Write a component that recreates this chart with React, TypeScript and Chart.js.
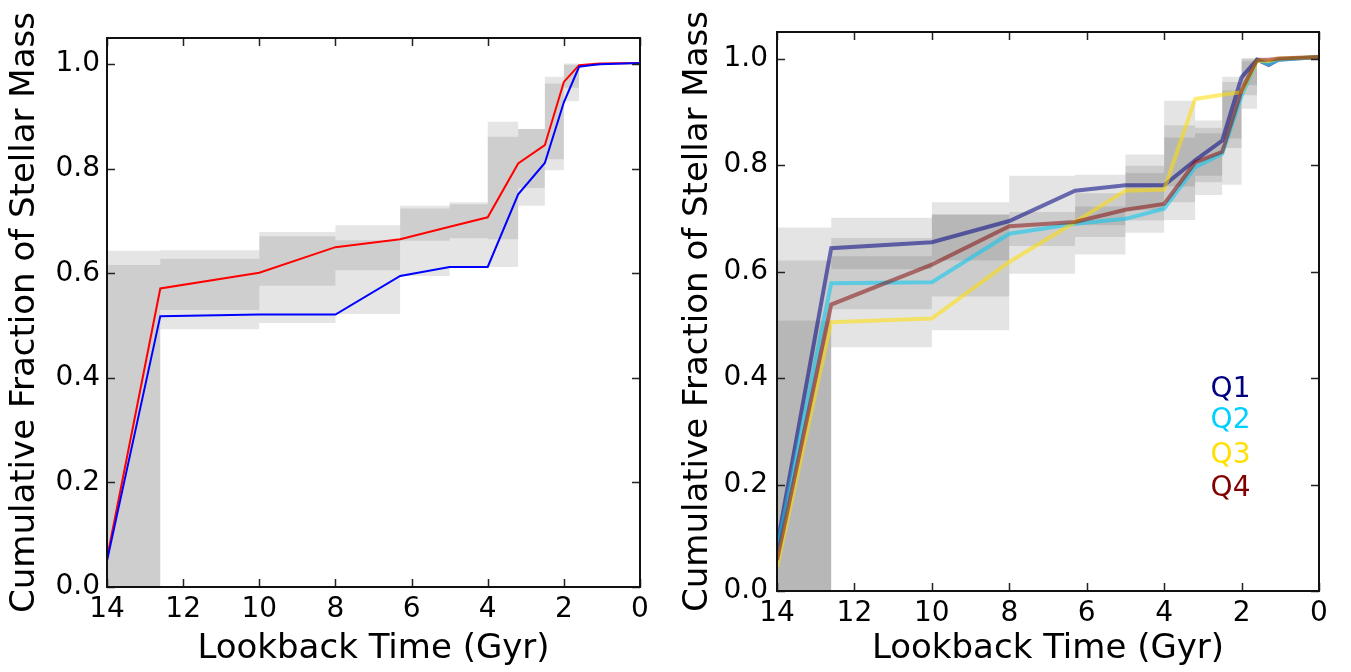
import React, { useEffect, useRef } from "react";
import { Chart, registerables } from "chart.js";

Chart.register(...registerables);

const FONT = "'DejaVu Sans', 'Liberation Sans', sans-serif";

// ---------- axes ----------
const xTickValues = [14, 12, 10, 8, 6, 4, 2, 0];
const yTickValues = [0, 0.2, 0.4, 0.6, 0.8, 1.0];
const xTitle = "Lookback Time (Gyr)";
const yTitle = "Cumulative Fraction of Stellar Mass";

// ---------- time grids ----------
const binEdges = [14, 12.6, 10, 8, 6.3, 5, 4, 3.2, 2.5, 2, 1.6];
const lineTimes = [14, 12.6, 10, 8, 6.3, 5, 4, 3.2, 2.5, 2, 1.6, 1.3, 1.05, 0];

// ---------- left panel ----------
const leftRed = [0.055, 0.571, 0.601, 0.65, 0.665, 0.689, 0.707, 0.81, 0.845, 0.966, 0.998, 1.0, 1.001, 1.002];
const leftBlue = [0.05, 0.518, 0.521, 0.521, 0.595, 0.612, 0.612, 0.751, 0.811, 0.927, 0.995, 0.998, 1.0, 1.002];

const leftOuterLow = [0, 0.493, 0.505, 0.522, 0.595, 0.612, 0.612, 0.729, 0.797, 0.929];
const leftOuterHigh = [0.643, 0.644, 0.679, 0.692, 0.729, 0.736, 0.89, 0.876, 0.976, 1.001];
const leftInnerLow = [0, 0.53, 0.576, 0.606, 0.662, 0.667, 0.665, 0.763, 0.818, 0.955];
const leftInnerHigh = [0.616, 0.628, 0.671, 0.663, 0.724, 0.732, 0.861, 0.876, 0.963, 0.999];

// ---------- right panel ----------
const q1 = [0.085, 0.644, 0.655, 0.695, 0.752, 0.762, 0.762, 0.809, 0.846, 0.965, 0.998, 0.988, 0.998, 1.003];
const q2 = [0.075, 0.578, 0.58, 0.671, 0.69, 0.699, 0.718, 0.796, 0.821, 0.93, 0.998, 0.99, 0.998, 1.003];
const q3 = [0.045, 0.505, 0.512, 0.618, 0.693, 0.752, 0.754, 0.924, 0.932, 0.937, 0.996, 0.995, 1.0, 1.003];
const q4 = [0.058, 0.538, 0.613, 0.685, 0.693, 0.716, 0.727, 0.805, 0.825, 0.94, 0.998, 0.998, 1.0, 1.003];

const rightALow = [0, 0.458, 0.49, 0.596, 0.632, 0.673, 0.697, 0.744, 0.763, 0.906];
const rightAHigh = [0.683, 0.701, 0.73, 0.78, 0.782, 0.82, 0.921, 0.884, 0.966, 1.0];
const rightBLow = [0, 0.529, 0.553, 0.648, 0.665, 0.696, 0.73, 0.768, 0.832, 0.931];
const rightBHigh = [0.621, 0.663, 0.707, 0.712, 0.747, 0.799, 0.875, 0.87, 0.956, 1.0];
const rightCLow = [0, 0.605, 0.621, 0.68, 0.687, 0.715, 0.76, 0.78, 0.85, 0.95];
const rightCHigh = [0.508, 0.629, 0.707, 0.68, 0.722, 0.785, 0.852, 0.86, 0.94, 0.995];

const qNames = ["Q1", "Q2", "Q3", "Q4"];
const qLineColors = ["rgba(0,0,128,0.55)", "rgba(0,200,240,0.55)", "rgba(255,221,0,0.55)", "rgba(128,0,0,0.5)"];
const qTextColors = ["#000080", "#00d0ff", "#ffe000", "#800000"];
const qLabelX = 2.8;
const qLabelY = [0.379, 0.319, 0.254, 0.193];

// ---------- helpers ----------
function stepPoints(values: number[]) {
  const pts = values.map((v, i) => ({ x: binEdges[i], y: v }));
  pts.push({ x: binEdges[binEdges.length - 1], y: values[values.length - 1] });
  return pts;
}
function linePoints(values: number[]) {
  return values.map((v, i) => ({ x: lineTimes[i], y: v }));
}
function band(low: number[], high: number[], color: string) {
  return [
    {
      type: "line",
      data: stepPoints(low),
      stepped: "before",
      borderWidth: 0,
      borderColor: "rgba(0,0,0,0)",
      pointRadius: 0,
      fill: false,
      order: 10,
    },
    {
      type: "line",
      data: stepPoints(high),
      stepped: "before",
      borderWidth: 0,
      borderColor: "rgba(0,0,0,0)",
      backgroundColor: color,
      pointRadius: 0,
      fill: "-1",
      order: 10,
    },
  ];
}
function line(values: number[], color: string, width: number) {
  return {
    type: "line",
    data: linePoints(values),
    borderColor: color,
    borderWidth: width,
    pointRadius: 0,
    fill: false,
    tension: 0,
    order: 0,
  };
}

const framePlugin = {
  id: "frame",
  afterDatasetsDraw(chart: any) {
    const { ctx, chartArea } = chart;
    const { left, right, top, bottom } = chartArea;
    const xs = chart.scales.x;
    const ys = chart.scales.y;
    const len = 8;
    ctx.save();
    ctx.strokeStyle = "#222";
    ctx.lineWidth = 1.5;
    ctx.beginPath();
    xs.ticks.forEach((t: any) => {
      const px = Math.round(xs.getPixelForValue(t.value)) + 0.5;
      ctx.moveTo(px, bottom);
      ctx.lineTo(px, bottom - len);
      ctx.moveTo(px, top);
      ctx.lineTo(px, top + len);
    });
    ys.ticks.forEach((t: any) => {
      const py = Math.round(ys.getPixelForValue(t.value)) + 0.5;
      ctx.moveTo(left, py);
      ctx.lineTo(left + len, py);
      ctx.moveTo(right, py);
      ctx.lineTo(right - len, py);
    });
    ctx.stroke();
    ctx.lineWidth = 2;
    ctx.strokeStyle = "#111";
    ctx.strokeRect(left, top, right - left, bottom - top);
    ctx.restore();
  },
};

const labelPlugin = {
  id: "qlabels",
  afterDraw(chart: any) {
    const opts = chart.options.plugins.qlabels;
    if (!opts || !opts.show) return;
    const { ctx } = chart;
    const xs = chart.scales.x;
    const ys = chart.scales.y;
    ctx.save();
    ctx.font = `28px ${FONT}`;
    ctx.textAlign = "left";
    ctx.textBaseline = "middle";
    qNames.forEach((name, i) => {
      ctx.fillStyle = qTextColors[i];
      ctx.fillText(name, xs.getPixelForValue(qLabelX), ys.getPixelForValue(qLabelY[i]));
    });
    ctx.restore();
  },
};

type PanelGeom = {
  yWidth: number;
  xHeight: number;
  padTop: number;
  padRight: number;
  yTitlePad: number;
  yTickPad: number;
  xTickPad: number;
};

function makeConfig(datasets: any[], g: PanelGeom, showQ: boolean) {
  return {
    type: "line",
    data: { datasets },
    options: {
      animation: false,
      responsive: false,
      events: [],
      layout: { padding: { left: 0, right: g.padRight, top: g.padTop, bottom: 0 } },
      plugins: {
        legend: { display: false },
        tooltip: { enabled: false },
        qlabels: { show: showQ },
      },
      scales: {
        x: {
          type: "linear",
          min: 0,
          max: 14,
          reverse: true,
          afterBuildTicks: (s: any) => {
            s.ticks = xTickValues.map((v) => ({ value: v }));
          },
          afterFit: (s: any) => {
            s.height = g.xHeight;
          },
          ticks: {
            font: { family: FONT, size: 28 },
            color: "#000",
            padding: g.xTickPad,
            maxRotation: 0,
            autoSkip: false,
            callback: (v: any) => String(Math.round(Number(v))),
          },
          grid: { display: false, drawTicks: false },
          border: { display: false },
          title: {
            display: true,
            text: xTitle,
            color: "#000",
            font: { family: FONT, size: 34 },
            padding: { top: 0, bottom: 2 },
          },
        },
        y: {
          type: "linear",
          min: 0,
          max: 1.05,
          afterBuildTicks: (s: any) => {
            s.ticks = yTickValues.map((v) => ({ value: v }));
          },
          afterFit: (s: any) => {
            s.width = g.yWidth;
          },
          ticks: {
            font: { family: FONT, size: 28 },
            color: "#000",
            padding: g.yTickPad,
            autoSkip: false,
            callback: (v: any) => Number(v).toFixed(1),
          },
          grid: { display: false, drawTicks: false },
          border: { display: false },
          title: {
            display: true,
            text: yTitle,
            color: "#000",
            font: { family: FONT, size: 34 },
            padding: { top: g.yTitlePad, bottom: 0 },
          },
        },
      },
    },
    plugins: [framePlugin, labelPlugin],
  };
}

const BAND = "rgba(0,0,0,0.1)";
const BAND_R = "rgba(0,0,0,0.105)";

function usePanel(ref: React.RefObject<HTMLCanvasElement>, build: () => any) {
  useEffect(() => {
    if (!ref.current) return;
    const chart = new Chart(ref.current, build());
    return () => chart.destroy();
  }, []);
}

export default function App() {
  const leftRef = useRef<HTMLCanvasElement>(null);
  const rightRef = useRef<HTMLCanvasElement>(null);

  usePanel(leftRef, () =>
    makeConfig(
      [
        line(leftBlue, "#0000ff", 2),
        line(leftRed, "#ff0000", 2),
        ...band(leftOuterLow, leftOuterHigh, BAND),
        ...band(leftInnerLow, leftInnerHigh, BAND),
      ],
      { yWidth: 107, xHeight: 85, padTop: 38, padRight: 40, yTitlePad: 5, yTickPad: 7, xTickPad: 6 },
      false
    )
  );

  usePanel(rightRef, () =>
    makeConfig(
      [
        line(q4, qLineColors[3], 4),
        line(q3, qLineColors[2], 4),
        line(q2, qLineColors[1], 4),
        line(q1, qLineColors[0], 4),
        ...band(rightALow, rightAHigh, BAND_R),
        ...band(rightBLow, rightBHigh, BAND_R),
        ...band(rightCLow, rightCHigh, BAND_R),
      ],
      { yWidth: 102, xHeight: 81, padTop: 32, padRight: 32, yTitlePad: 3, yTickPad: 9, xTickPad: 6 },
      true
    )
  );

  return (
    <div style={{ position: "absolute", left: 0, top: 0, width: 1351, height: 672, background: "#fff" }}>
      <canvas ref={leftRef} width={680} height={672} style={{ position: "absolute", left: 0, top: 0 }} />
      <canvas ref={rightRef} width={676} height={672} style={{ position: "absolute", left: 675, top: 0 }} />
    </div>
  );
}
